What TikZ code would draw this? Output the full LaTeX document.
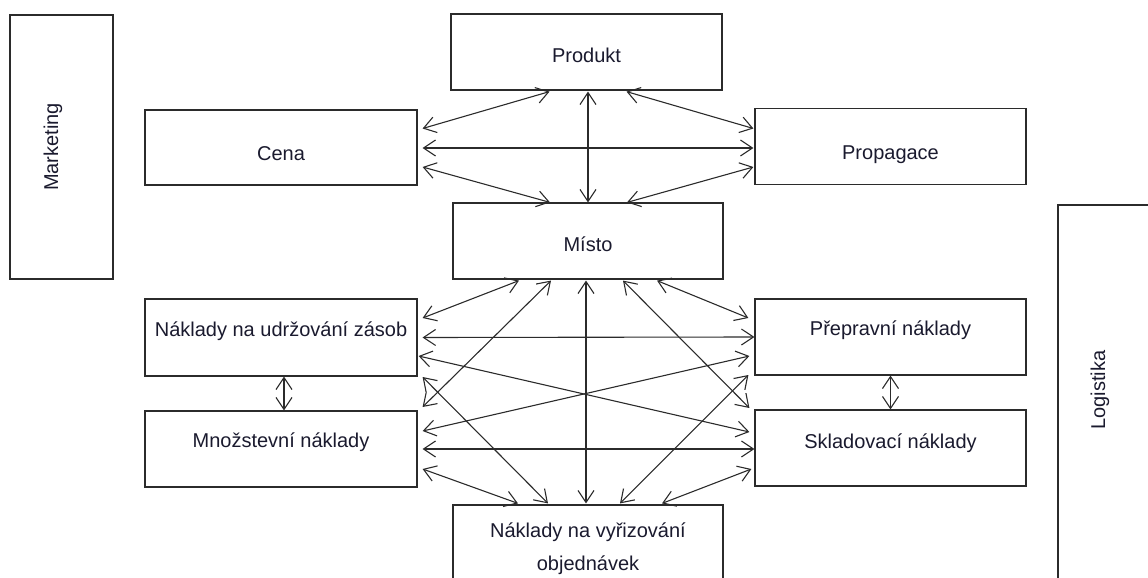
\documentclass[tikz,border=0pt]{standalone}
\usepackage{fontspec}
\setmainfont{Liberation Sans}
\usepackage{tikz}
\usetikzlibrary{positioning,arrows.meta,calc}
\definecolor{line1}{HTML}{2B2B2B}
\definecolor{text1}{HTML}{1A1A2E}

\begin{document}
\begin{tikzpicture}[
    x=1pt, y=-1pt,
    >={Straight Barb[length=12pt,width=16pt]},
    box/.style={draw=line1, line width=1.2pt, inner sep=0pt,
                minimum width=272pt, minimum height=76pt,
                font=\fontsize{20}{33}\selectfont, text=text1, align=center},
    sidebox/.style={draw=line1, line width=1.2pt, inner sep=0pt},
    sidelabel/.style={rotate=90, font=\fontsize{20}{24}\selectfont, text=text1},
    link/.style={<->, line width=1.1pt, line1},
]
\useasboundingbox (0,0) rectangle (1148,578);
\clip (0,0) rectangle (1148,578);

% side blocks
\node[sidebox, minimum width=103pt, minimum height=264pt] (marketing) at (61.5,147) {};
\node[sidelabel] (marketingtxt) at (53,147) {Marketing};
\node[sidebox, minimum width=110pt, minimum height=390pt] (logistika) at (1113,400) {};
\node[sidelabel] (logistikatxt) at (1100,390) {Logistika};

% marketing mix
\node[box, minimum width=271pt, text height=22pt, text depth=0pt] (produkt) at (586.5,52) {Produkt};
\node[box, minimum height=75pt, text height=25pt, text depth=0pt] (cena) at (281,147.5) {Cena};
\node[box, minimum width=271pt, text height=25pt, text depth=0pt] (propagace) at (890.5,146.5) {Propagace};
\node[box, minimum width=270pt, text height=20pt, text depth=0pt] (misto) at (588,241) {Místo};

% logistic costs
\node[box, minimum height=77pt, text height=12pt, text depth=15pt] (udrz) at (281,337.5) {Náklady na udržování zásob};
\node[box, minimum width=271pt, text height=12pt, text depth=16pt] (prep) at (890.5,337) {Přepravní náklady};
\node[box, text height=12pt, text depth=16pt] (mnoz) at (281,449) {Množstevní náklady};
\node[box, minimum width=271pt, text height=14pt, text depth=14pt] (sklad) at (890.5,448) {Skladovací náklady};
\node[box, minimum width=270pt, text height=58pt, text depth=4pt] (vyriz) at (588,543) {Náklady na vyřizování\\objednávek};

% upper links
\draw[link] ($(cena.east)+(5,-19)$) -- ($(produkt.south)+(-37,1)$);
\draw[link] ($(produkt.south)+(1.5,1)$) -- ($(misto.north)+(0,0)$);
\draw[link] ($(produkt.south)+(40,1)$) -- ($(propagace.west)+(-1,-18)$);
\draw[link] ($(cena.east)+(5,0.5)$) -- ($(propagace.west)+(-1,1.5)$);
\draw[link] ($(cena.east)+(5,19.5)$) -- ($(misto.north)+(-38,0)$);
\draw[link] ($(propagace.west)+(-1,20.5)$) -- ($(misto.north)+(39,0)$);

% lower links
\draw[link] ($(udrz.east)+(5,-19.5)$) -- ($(misto.south)+(-69,1)$);
\draw[link] ($(prep.west)+(-6,-19)$) -- ($(misto.south)+(69,1)$);
\draw[link] ($(mnoz.east)+(5,-42)$) -- ($(misto.south)+(-37,1)$);
\draw[link] ($(sklad.west)+(-5,-40)$) -- ($(misto.south)+(35,1)$);
\draw[link] ($(misto.south)+(-2,1)$) -- ($(vyriz.north)+(-2,-1)$);
\draw[link] ($(udrz.east)+(5,0)$) -- ($(prep.west)+(0,0)$);
\draw[link] ($(udrz.east)+(1,18.5)$) -- ($(sklad.west)+(-5,-16)$);
\draw[link] ($(mnoz.east)+(5,-18)$) -- ($(prep.west)+(-5,19)$);
\draw[link] ($(mnoz.east)+(5,0)$) -- ($(sklad.west)+(0,1)$);
\draw[link] ($(udrz.east)+(5,39.5)$) -- ($(vyriz.north)+(-40,-1)$);
\draw[link] ($(prep.west)+(-6,38)$) -- ($(vyriz.north)+(32,-1)$);
\draw[link] ($(mnoz.east)+(5,20)$) -- ($(vyriz.north)+(-70,-1)$);
\draw[link] ($(sklad.west)+(-3,21)$) -- ($(vyriz.north)+(74,-1)$);
\draw[link] ($(udrz.south)+(3,0)$) -- ($(mnoz.north)+(3,0)$);
\draw[link] ($(prep.south)+(0,0)$) -- ($(sklad.north)+(0,0)$);
\end{tikzpicture}
\end{document}
